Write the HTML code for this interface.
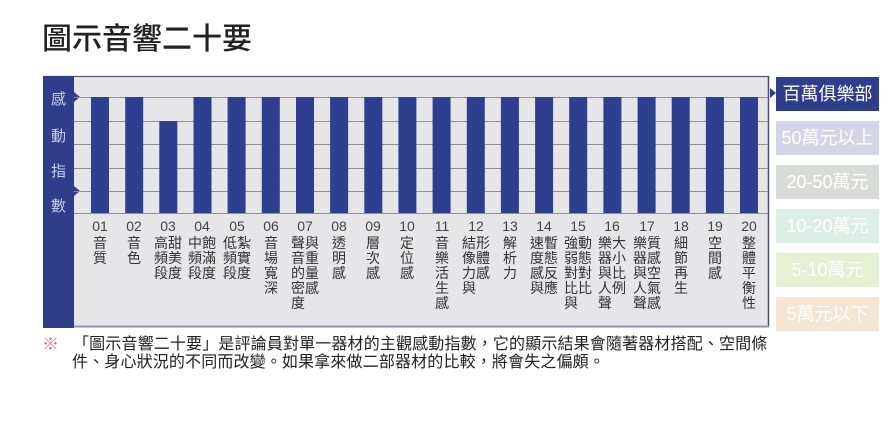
<!DOCTYPE html>
<html>
<head>
<meta charset="utf-8">
<style>
  html,body{margin:0;padding:0;background:#fff;}
  body{width:890px;height:426px;position:relative;overflow:hidden;
    font-family:"Liberation Sans","Noto Sans CJK TC",sans-serif;}
  .abs{position:absolute;}
  .title{left:42px;top:22px;font-size:30px;line-height:36px;color:#222;letter-spacing:0px;font-weight:500;white-space:nowrap;}
  .side{left:43px;width:31px;text-align:center;color:#c9cdea;font-size:15px;line-height:16px;}
  .num{font-size:14px;line-height:14px;color:#444;width:30px;text-align:center;top:219px;}
  .col{font-size:14px;line-height:15px;color:#333;width:14px;text-align:center;top:236px;}
  .leg{left:776px;width:103px;height:34px;color:#fff;font-size:18px;line-height:34px;text-align:center;white-space:nowrap;}
  .note{left:73px;font-size:16px;line-height:18px;color:#222;white-space:nowrap;letter-spacing:0.15px;}
</style>
</head>
<body>
<div class="abs title">圖示音響二十要</div>

<svg class="abs" style="left:0;top:0" width="890" height="426">
  <rect x="74" y="76" width="695" height="251" fill="#e6e6e9"/>
  <line x1="43" y1="76.5" x2="769" y2="76.5" stroke="#555a7a" stroke-width="1.2"/>
  <line x1="768.5" y1="76" x2="768.5" y2="327" stroke="#4a4f78" stroke-width="1.5"/>
  <line x1="74" y1="326.5" x2="769" y2="326.5" stroke="#8a93c0" stroke-width="2"/>
  <rect x="43" y="76" width="31" height="252" fill="#2f3d8a"/>
  <polygon points="74,92 80,97 74,102" fill="#2f3d8a"/>
  <polygon points="74,186 80,191 74,196" fill="#2f3d8a"/>
  <g stroke="#8f8f95" stroke-width="1">
    <line x1="74" y1="97.5" x2="768" y2="97.5"/>
    <line x1="74" y1="121.5" x2="768" y2="121.5"/>
    <line x1="74" y1="144.5" x2="768" y2="144.5"/>
    <line x1="74" y1="168.5" x2="768" y2="168.5"/>
    <line x1="74" y1="191.5" x2="768" y2="191.5"/>
    <line x1="74" y1="213.5" x2="768" y2="213.5"/>
  </g>
  <g fill="#2f3f8f">
    <rect x="91" y="97" width="18" height="116"/>
    <rect x="125.2" y="97" width="18" height="116"/>
    <rect x="159.3" y="121" width="18" height="92"/>
    <rect x="193.5" y="97" width="18" height="116"/>
    <rect x="227.6" y="97" width="18" height="116"/>
    <rect x="261.8" y="97" width="18" height="116"/>
    <rect x="296" y="97" width="18" height="116"/>
    <rect x="330.1" y="97" width="18" height="116"/>
    <rect x="364.3" y="97" width="18" height="116"/>
    <rect x="398.4" y="97" width="18" height="116"/>
    <rect x="432.6" y="97" width="18" height="116"/>
    <rect x="466.8" y="97" width="18" height="116"/>
    <rect x="500.9" y="97" width="18" height="116"/>
    <rect x="535.1" y="97" width="18" height="116"/>
    <rect x="569.2" y="97" width="18" height="116"/>
    <rect x="603.4" y="97" width="18" height="116"/>
    <rect x="637.6" y="97" width="18" height="116"/>
    <rect x="671.7" y="97" width="18" height="116"/>
    <rect x="705.9" y="97" width="18" height="116"/>
    <rect x="740" y="97" width="18" height="116"/>
  </g>
  <polygon points="770,88 776,93 770,98" fill="#2f3d8a"/>
  <text x="42" y="350" font-size="17" fill="#d9697a" font-family="Liberation Sans, Noto Sans CJK TC, sans-serif">※</text>
</svg>

<div class="abs side" style="top:92px">感</div>
<div class="abs side" style="top:129px">動</div>
<div class="abs side" style="top:164px">指</div>
<div class="abs side" style="top:199px">數</div>

<div class="abs num" style="left:85px">01</div>
<div class="abs num" style="left:119px">02</div>
<div class="abs num" style="left:153px">03</div>
<div class="abs num" style="left:187px">04</div>
<div class="abs num" style="left:222px">05</div>
<div class="abs num" style="left:256px">06</div>
<div class="abs num" style="left:290px">07</div>
<div class="abs num" style="left:324px">08</div>
<div class="abs num" style="left:358px">09</div>
<div class="abs num" style="left:392px">10</div>
<div class="abs num" style="left:427px">11</div>
<div class="abs num" style="left:461px">12</div>
<div class="abs num" style="left:495px">13</div>
<div class="abs num" style="left:529px">14</div>
<div class="abs num" style="left:563px">15</div>
<div class="abs num" style="left:597px">16</div>
<div class="abs num" style="left:632px">17</div>
<div class="abs num" style="left:666px">18</div>
<div class="abs num" style="left:700px">19</div>
<div class="abs num" style="left:734px">20</div>

<div class="abs col" style="left:93px">音<br>質</div>
<div class="abs col" style="left:127px">音<br>色</div>
<div class="abs col" style="left:154px">高<br>頻<br>段</div>
<div class="abs col" style="left:168px">甜<br>美<br>度</div>
<div class="abs col" style="left:188px">中<br>頻<br>段</div>
<div class="abs col" style="left:202px">飽<br>滿<br>度</div>
<div class="abs col" style="left:223px">低<br>頻<br>段</div>
<div class="abs col" style="left:237px">紮<br>實<br>度</div>
<div class="abs col" style="left:264px">音<br>場<br>寬<br>深</div>
<div class="abs col" style="left:291px">聲<br>音<br>的<br>密<br>度</div>
<div class="abs col" style="left:305px">與<br>重<br>量<br>感</div>
<div class="abs col" style="left:332px">透<br>明<br>感</div>
<div class="abs col" style="left:366px">層<br>次<br>感</div>
<div class="abs col" style="left:400px">定<br>位<br>感</div>
<div class="abs col" style="left:435px">音<br>樂<br>活<br>生<br>感</div>
<div class="abs col" style="left:462px">結<br>像<br>力<br>與</div>
<div class="abs col" style="left:476px">形<br>體<br>感</div>
<div class="abs col" style="left:503px">解<br>析<br>力</div>
<div class="abs col" style="left:530px">速<br>度<br>感<br>與</div>
<div class="abs col" style="left:544px">暫<br>態<br>反<br>應</div>
<div class="abs col" style="left:564px">強<br>弱<br>對<br>比<br>與</div>
<div class="abs col" style="left:578px">動<br>態<br>對<br>比</div>
<div class="abs col" style="left:598px">樂<br>器<br>與<br>人<br>聲</div>
<div class="abs col" style="left:612px">大<br>小<br>比<br>例</div>
<div class="abs col" style="left:633px">樂<br>器<br>與<br>人<br>聲</div>
<div class="abs col" style="left:647px">質<br>感<br>空<br>氣<br>感</div>
<div class="abs col" style="left:674px">細<br>節<br>再<br>生</div>
<div class="abs col" style="left:708px">空<br>間<br>感</div>
<div class="abs col" style="left:742px">整<br>體<br>平<br>衡<br>性</div>

<div class="abs leg" style="top:77px;background:#2f3e8c;">百萬俱樂部</div>
<div class="abs leg" style="top:121px;background:#d4d5e7;">50萬元以上</div>
<div class="abs leg" style="top:165px;background:#d8dcd9;">20-50萬元</div>
<div class="abs leg" style="top:209px;background:#dcefe4;">10-20萬元</div>
<div class="abs leg" style="top:253px;background:#e6f0d3;">5-10萬元</div>
<div class="abs leg" style="top:297px;background:#f4e6d3;">5萬元以下</div>

<div class="abs note" style="top:336px">「圖示音響二十要」是評論員對單一器材的主觀感動指數，它的顯示結果會隨著器材搭配、空間條</div>
<div class="abs note" style="top:354px;left:72px">件、身心狀況的不同而改變。如果拿來做二部器材的比較，將會失之偏頗。</div>
</body>
</html>
